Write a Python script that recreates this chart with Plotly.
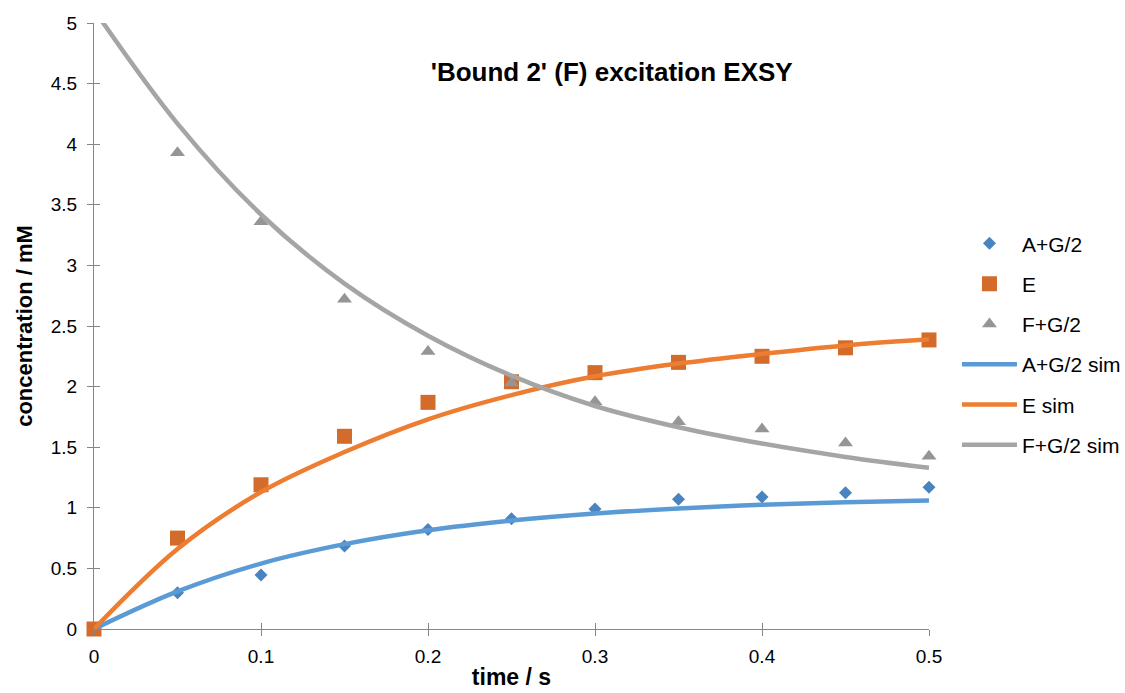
import plotly.graph_objects as go

# Measured time points (s)
t_meas = [0, 0.05, 0.1, 0.15, 0.2, 0.25, 0.3, 0.35, 0.4, 0.45, 0.5]
a_meas = [0, 0.30, 0.445, 0.685, 0.82, 0.91, 0.99, 1.07, 1.09, 1.125, 1.17]
e_meas = [0, 0.75, 1.19, 1.59, 1.87, 2.04, 2.115, 2.20, 2.25, 2.32, 2.385]
t_f_meas = [0.05, 0.1, 0.15, 0.2, 0.25, 0.3, 0.35, 0.4, 0.45, 0.5]
f_meas = [3.93, 3.36, 2.72, 2.29, 2.03, 1.875, 1.71, 1.65, 1.535, 1.425]

# Simulated curves
t_sim = [0, 0.05, 0.1, 0.15, 0.2, 0.25, 0.3, 0.35, 0.4, 0.45, 0.5]
a_sim = [0, 0.31, 0.54, 0.70, 0.815, 0.895, 0.953, 0.995, 1.025, 1.045, 1.06]
e_sim = [0, 0.66, 1.13, 1.46, 1.73, 1.93, 2.085, 2.19, 2.27, 2.34, 2.39]
f_sim = [5.11, 4.17, 3.42, 2.85, 2.42, 2.09, 1.84, 1.665, 1.53, 1.42, 1.33]

FONT = "Liberation Sans, Arial, sans-serif"
AXIS_COLOR = "#868686"

fig = go.Figure()

fig.add_trace(go.Scatter(x=t_meas, y=a_meas, mode="markers", name="A+G/2",
                         legendgroup="g1", cliponaxis=False,
                         marker=dict(symbol="diamond", size=10, color="#4A84C0")))
fig.add_trace(go.Scatter(x=t_meas, y=e_meas, mode="markers", name="E",
                         legendgroup="g2", cliponaxis=False,
                         marker=dict(symbol="square", size=15, color="#D36B2A")))
fig.add_trace(go.Scatter(x=t_f_meas, y=f_meas, mode="markers", name="F+G/2",
                         legendgroup="g3", cliponaxis=False,
                         marker=dict(symbol="triangle-up", size=13, color="#959595")))

fig.add_trace(go.Scatter(x=t_sim, y=a_sim, mode="lines", name="A+G/2 sim",
                         legendgroup="g4",
                         line=dict(color="#5B9BD5", width=4.5, shape="spline")))
fig.add_trace(go.Scatter(x=t_sim, y=e_sim, mode="lines", name="E sim",
                         legendgroup="g5",
                         line=dict(color="#ED7D31", width=4.5, shape="spline")))
fig.add_trace(go.Scatter(x=t_sim, y=f_sim, mode="lines", name="F+G/2 sim",
                         legendgroup="g6",
                         line=dict(color="#A5A5A5", width=4.5, shape="spline")))

# invisible trace so the overlay axes (inner half of the cross ticks) are drawn
fig.add_trace(go.Scatter(x=[0], y=[0], xaxis="x2", yaxis="y2", mode="markers",
                         marker=dict(opacity=0), showlegend=False, hoverinfo="skip"))

fig.update_layout(
    width=1125, height=693,
    margin=dict(l=94, r=196, t=23, b=64, autoexpand=False),
    paper_bgcolor="white", plot_bgcolor="white",
    font=dict(family=FONT, color="#000000"),
    title=dict(text="<b>'Bound 2' (F) excitation EXSY</b>",
               font=dict(size=26, family=FONT, color="#000000"),
               xref="paper", x=0.62, xanchor="center",
               y=1 - 72 / 693, yanchor="middle"),
    showlegend=True,
    legend=dict(x=1.0335, xanchor="left", y=0.47, yanchor="middle",
                font=dict(size=21, family=FONT, color="#000000"),
                tracegroupgap=10, itemwidth=55,
                bgcolor="rgba(0,0,0,0)"),
    xaxis=dict(range=[0, 0.5], dtick=0.1, tick0=0, automargin=False,
               showgrid=False, zeroline=False,
               showline=True, linecolor=AXIS_COLOR, linewidth=1,
               ticks="outside", ticklen=6, tickcolor=AXIS_COLOR,
               tickfont=dict(size=19, family=FONT, color="#000000"),
               ticklabelstandoff=4,
               title=dict(text="<b>time / s</b>", standoff=3,
                          font=dict(size=23, family=FONT, color="#000000"))),
    yaxis=dict(range=[0, 5], dtick=0.5, tick0=0, automargin=False,
               showgrid=False, zeroline=False,
               showline=True, linecolor=AXIS_COLOR, linewidth=1,
               ticks="outside", ticklen=6, tickcolor=AXIS_COLOR,
               tickfont=dict(size=19, family=FONT, color="#000000"),
               ticklabelstandoff=6,
               title=dict(text="<b>concentration / mM</b>", standoff=12,
                          font=dict(size=22, family=FONT, color="#000000"))),
    xaxis2=dict(overlaying="x", anchor="y2", range=[0, 0.5], dtick=0.1, tick0=0,
                showgrid=False, zeroline=False, showline=False,
                ticks="inside", ticklen=6, tickcolor=AXIS_COLOR,
                showticklabels=False, side="bottom"),
    yaxis2=dict(overlaying="y", anchor="x2", range=[0, 5], dtick=0.5, tick0=0,
                showgrid=False, zeroline=False, showline=False,
                ticks="inside", ticklen=6, tickcolor=AXIS_COLOR,
                showticklabels=False, side="left"),
)

fig.write_html("out.html")
